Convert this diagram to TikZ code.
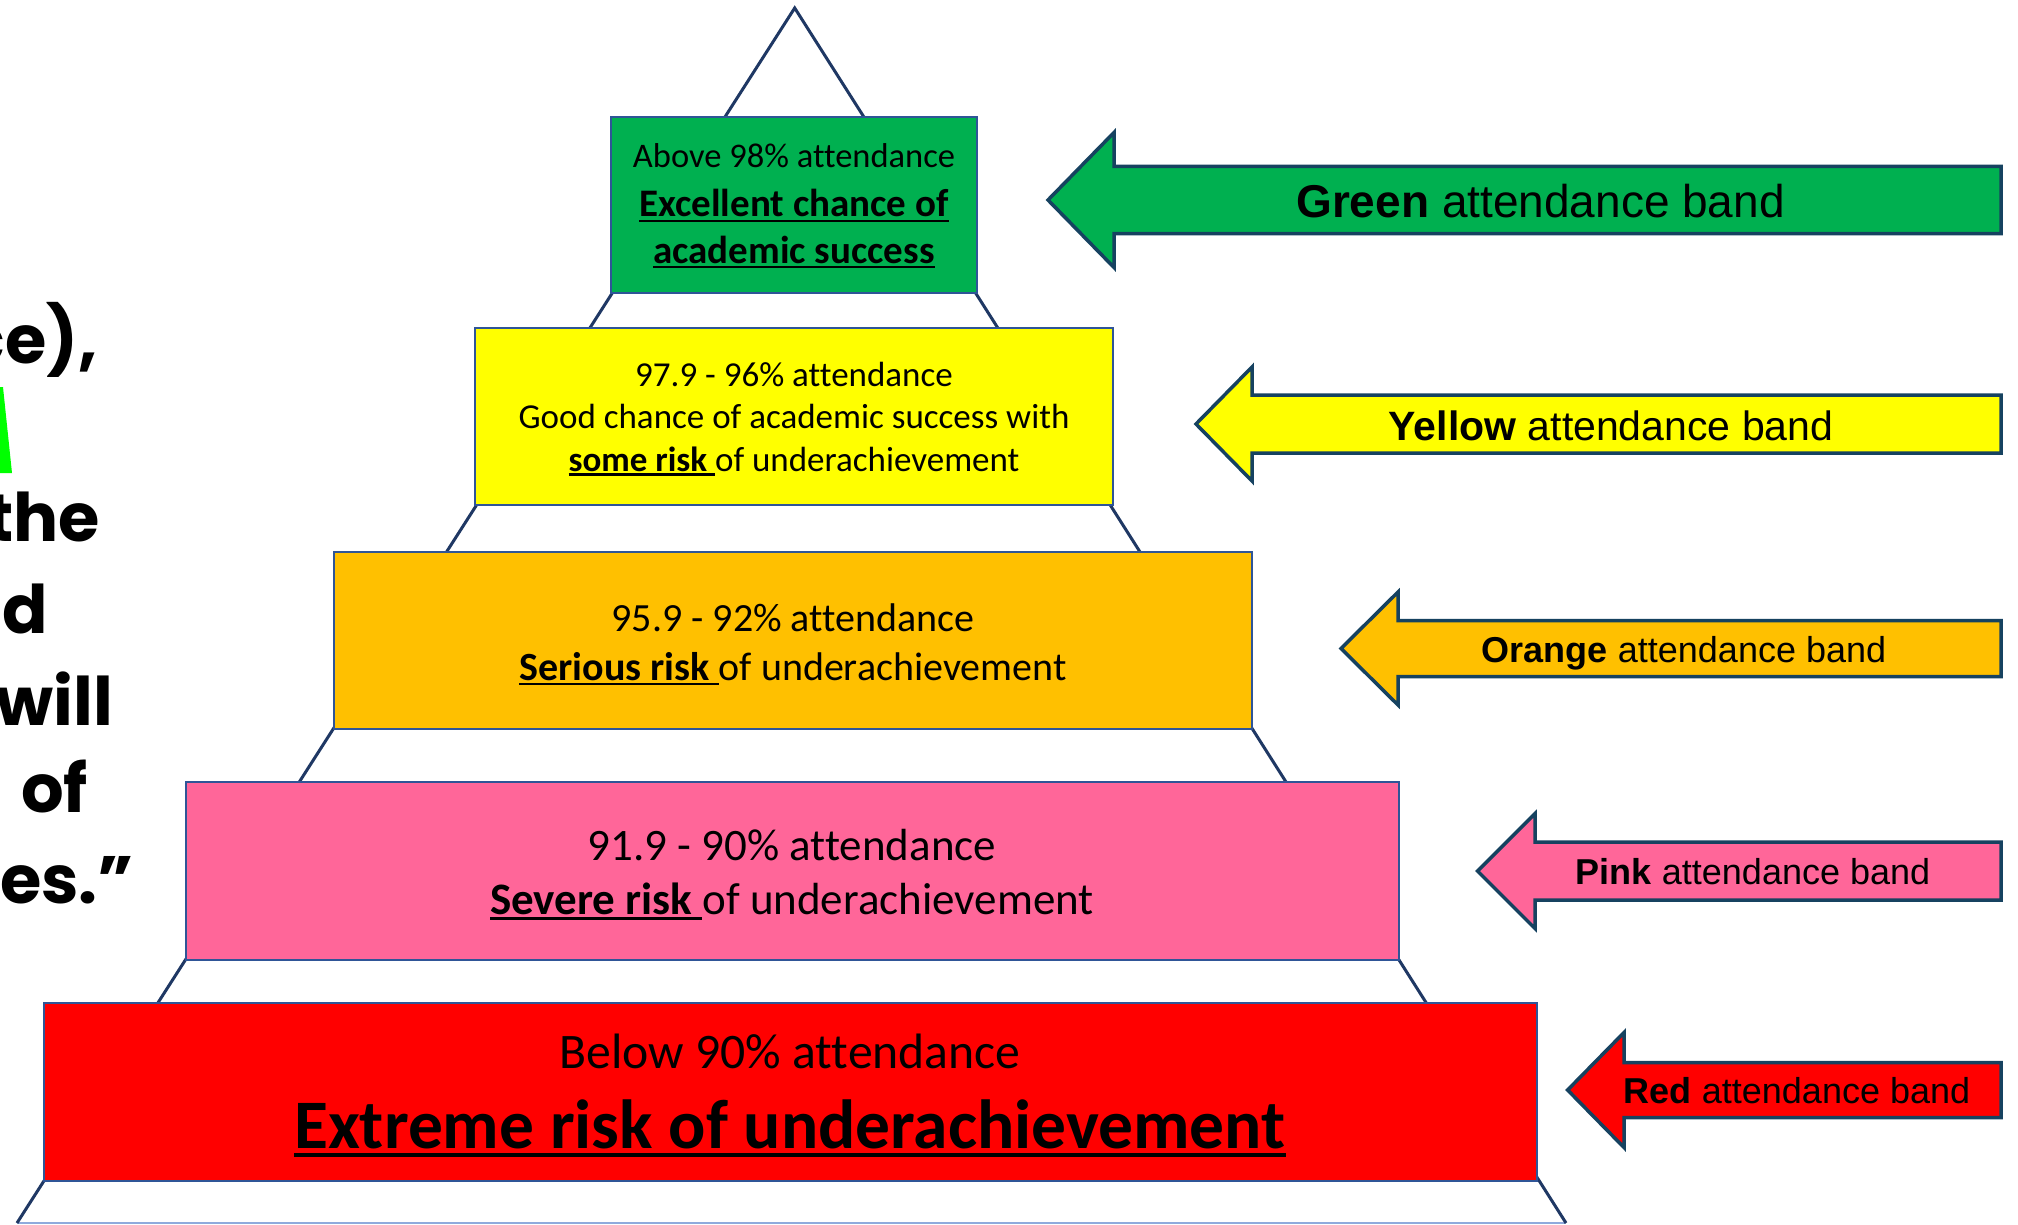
\documentclass[tikz,border=0pt]{standalone}
\usepackage{fontspec}
\setmainfont{Carlito}[Ligatures=NoCommon]
\newfontfamily\arialf{Liberation Sans}
\newfontfamily\gothicf{Poppins}
\newsavebox{\ulbox}
\newcommand{\myul}[1]{\leavevmode\sbox{\ulbox}{#1}\rlap{\rule[-0.13em]{\wd\ulbox}{0.065em}}\usebox{\ulbox}}
\definecolor{gfill}{HTML}{00B050}
\definecolor{yfill}{HTML}{FFFF00}
\definecolor{ofill}{HTML}{FFC000}
\definecolor{pfill}{HTML}{FF6699}
\definecolor{rfill}{HTML}{FF0000}
\definecolor{hlgreen}{HTML}{00FF00}
\definecolor{boxblue}{RGB}{47,85,151}
\definecolor{navy}{RGB}{31,56,100}
\definecolor{baseblue}{RGB}{143,170,220}
\definecolor{arrowedge}{RGB}{22,66,96}
\newcommand{\bandarrow}[7]{%
  \path[bandarrowstyle, fill=#7] (#1,#2) -- (#3,{#2-#4}) -- (#3,{#2-#5}) -- (#6,{#2-#5})
    -- (#6,{#2+#5}) -- (#3,{#2+#5}) -- (#3,{#2+#4}) -- cycle;}
\begin{document}
\begin{tikzpicture}[x=1pt,y=-1pt,
  band/.style={draw=boxblue, line width=2.5pt, inner sep=0pt},
  bandarrowstyle/.style={draw=arrowedge, line width=3.5pt, line join=miter},
  txt/.style={anchor=base, inner sep=0pt, text=black},
  atxt/.style={anchor=base, inner sep=0pt, text=black},
  ltxt/.style={anchor=base east, inner sep=0pt, text=black, font=\gothicf\bfseries\fontsize{67}{70}\selectfont}]
\useasboundingbox (0,0) rectangle (2018,1225);
\fill[white] (0,0) rectangle (2018,1225);
% pyramid outline
\coordinate (apex) at (794.7,8);
\coordinate (bl) at (17,1223);
\coordinate (br) at (1566,1223);
\draw[baseblue, line width=2pt] (bl) -- (br);
\draw[navy, line width=3pt, line join=miter] (bl) -- (apex) -- (br);
% bands
\node[band, fill=gfill, minimum width=366pt, minimum height=176pt] (gbox) at (794,205) {};
\node[band, fill=yfill, minimum width=638pt, minimum height=177pt] (ybox) at (794,416.5) {};
\node[band, fill=ofill, minimum width=918pt, minimum height=177pt] (obox) at (793,640.5) {};
\node[band, fill=pfill, minimum width=1213pt, minimum height=178pt] (pbox) at (792.5,871) {};
\node[band, fill=rfill, minimum width=1493pt, minimum height=178pt] (rbox) at (790.5,1092) {};
% band texts
\node[txt, font=\fontsize{34.5}{40}\selectfont] (g1) at (794,168) {Above 98\% attendance};
\node[txt, font=\bfseries\fontsize{39}{45}\selectfont] (g2) at (794,217) {\myul{Excellent chance of}};
\node[txt, font=\bfseries\fontsize{39}{45}\selectfont] (g3) at (794,263) {\myul{academic success}};
\node[txt, font=\fontsize{35}{40}\selectfont] (y1) at (794,386) {97.9 - 96\% attendance};
\node[txt, font=\fontsize{35}{40}\selectfont] (y2) at (794,428) {Good chance of academic success with};
\node[txt, font=\fontsize{35}{40}\selectfont] (y3) at (794,471) {\myul{\bfseries some risk\ }of underachievement};
\node[txt, font=\fontsize{40}{46}\selectfont] (o1) at (793,631) {95.9 - 92\% attendance};
\node[txt, font=\fontsize{40}{46}\selectfont] (o2) at (793,680) {\myul{\bfseries Serious risk\ }of underachievement};
\node[txt, font=\fontsize{45}{52}\selectfont] (p1) at (792,860) {91.9 - 90\% attendance};
\node[txt, font=\fontsize{45}{52}\selectfont] (p2) at (792,914) {\myul{\bfseries Severe risk\ }of underachievement};
\node[txt, font=\fontsize{49.7}{56}\selectfont] (r1) at (790,1068) {Below 90\% attendance};
\node[txt, font=\bfseries\fontsize{69.5}{78}\selectfont] (r2) at (790,1148) {\myul{Extreme risk of underachievement}};
% arrows
\bandarrow{1048}{200}{1114}{67.5}{33.5}{2001}{gfill}
\bandarrow{1196}{424}{1252}{57}{29}{2001}{yfill}
\bandarrow{1341}{648.5}{1398}{56.5}{28}{2001}{ofill}
\bandarrow{1477.5}{871}{1535}{57.5}{29}{2001}{pfill}
\bandarrow{1567.6}{1090}{1624}{57.5}{27.5}{2001}{rfill}
\node[atxt, font=\arialf\fontsize{46}{52}\selectfont] (ga) at (1540.5,218) {\textbf{Green} attendance band};
\node[atxt, font=\arialf\fontsize{41}{48}\selectfont] (ya) at (1611,440) {\textbf{Yellow} attendance band};
\node[atxt, font=\arialf\fontsize{36}{42}\selectfont] (oa) at (1684,662) {\textbf{Orange} attendance band};
\node[atxt, font=\arialf\fontsize{36}{42}\selectfont] (pa) at (1753,884) {\textbf{Pink} attendance band};
\node[atxt, font=\arialf\fontsize{36}{42}\selectfont] (ra) at (1797,1103) {\textbf{Red} attendance band};
% left cut-off quote
\fill[hlgreen] (0,387) -- (3,387) -- (12,473) -- (0,473) -- cycle;
\node[ltxt] (q1) at (98,363) {ce),};
\node[ltxt] (q3) at (100,541) {the};
\node[ltxt] (q4) at (48,633) {nd};
\node[ltxt] (q5) at (113,725) {will};
\node[ltxt] (q6) at (88,812) {of};
\node[ltxt] (q7) at (134,903) {es.”};
\end{tikzpicture}
\end{document}
